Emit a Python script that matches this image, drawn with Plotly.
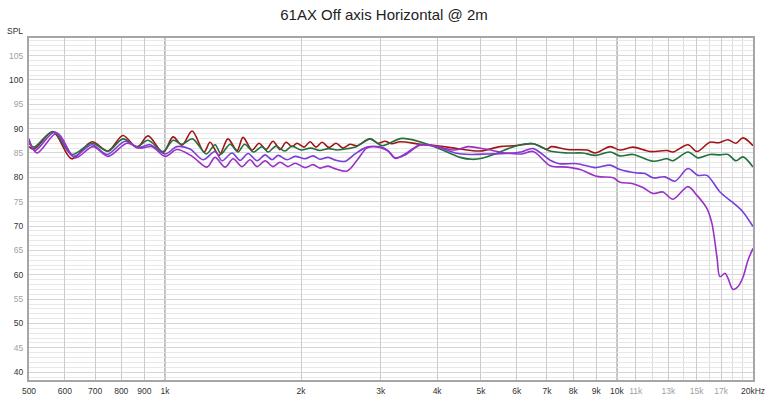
import plotly.graph_objects as go
import math

# ---------------- data ----------------
red_f = [500, 513, 565, 622, 689, 748, 807, 867, 917, 990,
         1042, 1090, 1148, 1220, 1258, 1317, 1378, 1443, 1488, 1558, 1615, 1673, 1734, 1797, 1853, 1910, 1959,
         2031, 2094, 2159, 2226, 2306, 2390, 2477, 2567, 2660, 2842, 2960, 3067, 3177, 3312, 3668, 4000,
         4497, 4980, 5512, 5983, 6529, 7000, 7158, 7759, 8591, 8948, 9661, 10154, 10849, 11834, 12901, 13302,
         14358, 15033, 16061, 16818, 17606, 18340, 19006, 20000]
red_db = [86.3, 85.8, 89.3, 83.8, 87.3, 85.4, 88.6, 86.1, 88.5, 85.1,
          88.3, 86.6, 89.5, 85.2, 87.2, 84.5, 87.9, 85.5, 88.2, 85.6, 87.0, 85.7, 87.4, 85.7, 87.2, 86.3, 87.0,
          86.2, 87.3, 86.2, 87.2, 86.1, 87.0, 86.0, 86.8, 86.5, 87.9, 87.0, 87.4, 86.9, 87.3, 86.8, 86.5,
          85.8, 85.4, 86.3, 86.5, 86.9, 85.8, 86.3, 85.7, 85.6, 85.0, 86.3, 85.6, 86.2, 85.3, 85.5, 85.2,
          86.7, 85.3, 87.2, 87.1, 87.7, 87.0, 88.1, 86.5]

green_f = [500, 513, 565, 622, 689, 748, 807, 867, 917, 990,
           1042, 1090, 1150, 1234, 1290, 1330, 1393, 1450, 1500, 1570, 1640, 1690, 1760, 1840, 1910,
           2000, 2100, 2200, 2300, 2400, 2500, 2650, 2842, 3022, 3348, 3920, 4497, 4780, 5025, 5380, 6000,
           6529, 7100, 7759, 8390, 8948, 9661, 10154, 10849, 12013, 12901, 13302, 14358, 15109, 16061,
           16902, 17606, 18340, 19006, 20000]
green_db = [87.0, 86.2, 89.4, 84.7, 87.0, 85.4, 87.9, 86.3, 87.6, 85.3,
            87.6, 86.8, 87.9, 84.8, 86.7, 84.8, 86.8, 85.2, 86.8, 85.2, 86.3, 85.2, 86.4, 85.4, 86.4,
            85.6, 86.0, 85.5, 85.9, 85.6, 85.8, 86.3, 87.9, 86.5, 88.0, 86.4, 84.1, 83.7, 83.9, 84.8, 86.5,
            86.9, 85.4, 85.0, 85.0, 84.5, 85.2, 84.4, 84.7, 83.3, 83.8, 83.4, 85.2, 84.0, 84.7,
            84.6, 84.7, 83.4, 84.2, 82.1]

violet_f = [500, 515, 571, 626, 689, 744, 816, 871, 927, 1000,
            1063, 1136, 1214, 1290, 1337, 1407, 1466, 1527, 1598, 1665, 1725, 1779, 1862, 1940,
            2041, 2126, 2203, 2295, 2390, 2502, 2633, 2798, 3000, 3115, 3230, 3399, 3668, 4000,
            4387, 4734, 5186, 5658, 6137, 6529, 7115, 7449, 8165, 8948, 9661, 10154, 11072, 11533,
            12013, 12770, 13437, 14358, 15109, 15819, 16902, 18061, 19006, 20000]
violet_db = [87.9, 85.5, 89.3, 84.3, 86.7, 84.7, 87.4, 86.1, 86.7, 84.8,
             86.3, 85.8, 83.6, 85.3, 83.4, 85.0, 83.5, 84.9, 83.4, 84.6, 83.6, 84.5, 83.6, 84.3,
             83.8, 84.4, 83.7, 84.1, 83.5, 83.3, 84.8, 86.2, 86.2, 85.5, 84.0, 84.8, 86.7, 86.3,
             85.0, 84.7, 84.8, 84.9, 85.2, 85.9, 83.5, 82.8, 82.8, 82.0, 82.5, 81.6, 80.9, 80.8,
             79.9, 80.1, 79.2, 81.8, 80.4, 80.4, 77.0, 74.8, 72.9, 69.9]

purple_f = [500, 521, 577, 632, 693, 748, 824, 880, 936, 1000,
            1063, 1148, 1239, 1290, 1358, 1414, 1481, 1542, 1598, 1665, 1734, 1797, 1871, 1940,
            2041, 2126, 2203, 2295, 2390, 2528, 2660, 2798, 3000, 3115, 3230, 3399, 3668, 4000,
            4387, 4686, 5108, 5658, 6137, 6529, 7115, 7759, 8290, 9040, 9808, 10154, 10849, 11417,
            12013, 12642, 13302, 14358, 15033, 15819, 16228, 16646, 16902, 17340, 17606, 18061,
            18529, 19006, 19496, 20000]
purple_db = [87.6, 85.0, 89.1, 84.0, 86.3, 84.3, 87.0, 86.0, 86.3, 84.3,
             85.7, 84.3, 82.1, 84.1, 82.1, 83.8, 82.2, 83.6, 82.2, 83.4, 82.2, 83.1, 82.2, 82.9,
             82.0, 82.6, 81.9, 82.3, 81.7, 81.3, 83.5, 86.0, 86.1, 85.4, 83.9, 84.6, 86.6, 86.3,
             85.6, 86.3, 85.8, 85.0, 84.8, 85.3, 82.4, 82.1, 81.6, 80.2, 79.9, 79.0, 78.7, 77.9,
             76.7, 77.0, 75.5, 78.1, 76.3, 73.6, 70.5, 63.6, 59.6, 60.3, 59.3, 57.0,
             57.6, 59.5, 63.0, 65.4]

series_names = ["0°", "15°", "30°", "45°"]
series_colors = ["#a11515", "#22703f", "#7b3ed6", "#9b32c4"]

x_major = [500, 600, 700, 800, 900, 1000, 2000, 3000, 4000, 5000, 6000, 7000, 8000, 9000,
           10000, 11000, 13000, 15000, 17000, 20000]
x_labels = ["500", "600", "700", "800", "900", "1k", "2k", "3k", "4k", "5k", "6k", "7k", "8k", "9k",
            "10k", "11k", "13k", "15k", "17k", "20kHz"]
x_grey = ["11k", "13k", "15k", "17k"]
x_minor = [12000, 14000, 16000, 18000, 19000]

y_major = [40, 45, 50, 55, 60, 65, 70, 75, 80, 85, 90, 95, 100, 105]

# ---------------- figure ----------------
GREY = "#a0a0a0"
DARK = "#333333"
FONT = "Liberation Sans, Arial, sans-serif"

fig = go.Figure()
for f, db, name, col in zip([red_f, green_f, violet_f, purple_f],
                            [red_db, green_db, violet_db, purple_db],
                            series_names, series_colors):
    fig.add_trace(go.Scatter(x=f, y=db, mode="lines", name=name,
                             line=dict(color=col, width=1.6, shape="spline", smoothing=0.9)))

xt = [('<span style="color:%s">%s</span>' % (GREY, t)) if t in x_grey else t for t in x_labels]
yt = [str(v) if v % 10 == 0 else '<span style="color:%s">%d</span>' % (GREY, v) for v in y_major]

fig.update_layout(
    width=768, height=396,
    margin=dict(l=29, r=15, t=38, b=16, autoexpand=False),
    paper_bgcolor="white", plot_bgcolor="white",
    showlegend=False,
    font=dict(family=FONT, size=9, color=DARK),
    title=dict(text="61AX Off axis Horizontal @ 2m", x=0.5, xref="container", xanchor="center",
               y=0.962, yref="container", yanchor="middle", automargin=False,
               font=dict(size=15, color="#222222", family=FONT)),
)

fig.update_xaxes(
    type="log", range=[math.log10(500), math.log10(20000)],
    tickmode="array", tickvals=x_major, ticktext=xt, tickangle=0, automargin=False,
    showgrid=True, gridcolor="#cccccc", gridwidth=1,
    minor=dict(tickmode="array", tickvals=x_minor, showgrid=True, gridcolor="#dcdcdc", gridwidth=1),
    ticks="", ticklabelstandoff=2,
    showline=True, linecolor="#a6a6a6", linewidth=2, mirror=True,
    zeroline=False, tickfont=dict(size=8.5, color=DARK, family=FONT),
)
fig.update_yaxes(
    range=[38.4, 108.6], automargin=False,
    tickmode="array", tickvals=y_major, ticktext=yt,
    showgrid=True, gridcolor="#d6d6d6", gridwidth=1,
    minor=dict(dtick=1, showgrid=True, gridcolor="#e8e8e8", gridwidth=1),
    ticks="", ticklabelstandoff=2,
    showline=True, linecolor="#a6a6a6", linewidth=2, mirror=True,
    zeroline=False, tickfont=dict(size=8.5, color=DARK, family=FONT),
)

# darker decade lines at 1k and 10k
for fx in [1000, 10000]:
    fig.add_shape(type="line", xref="x", yref="paper", x0=fx, x1=fx, y0=0, y1=1,
                  line=dict(color="#a0a0a0", width=1.5), layer="between")

fig.add_annotation(text="SPL", xref="paper", yref="paper", x=-0.0055, y=1.0, xanchor="right",
                   yanchor="bottom", yshift=0, showarrow=False,
                   font=dict(size=8.5, color=DARK, family=FONT))

fig.write_html("out.html", config={"displayModeBar": False},
               post_script="document.body.style.margin='0';document.body.style.overflow='hidden';")
